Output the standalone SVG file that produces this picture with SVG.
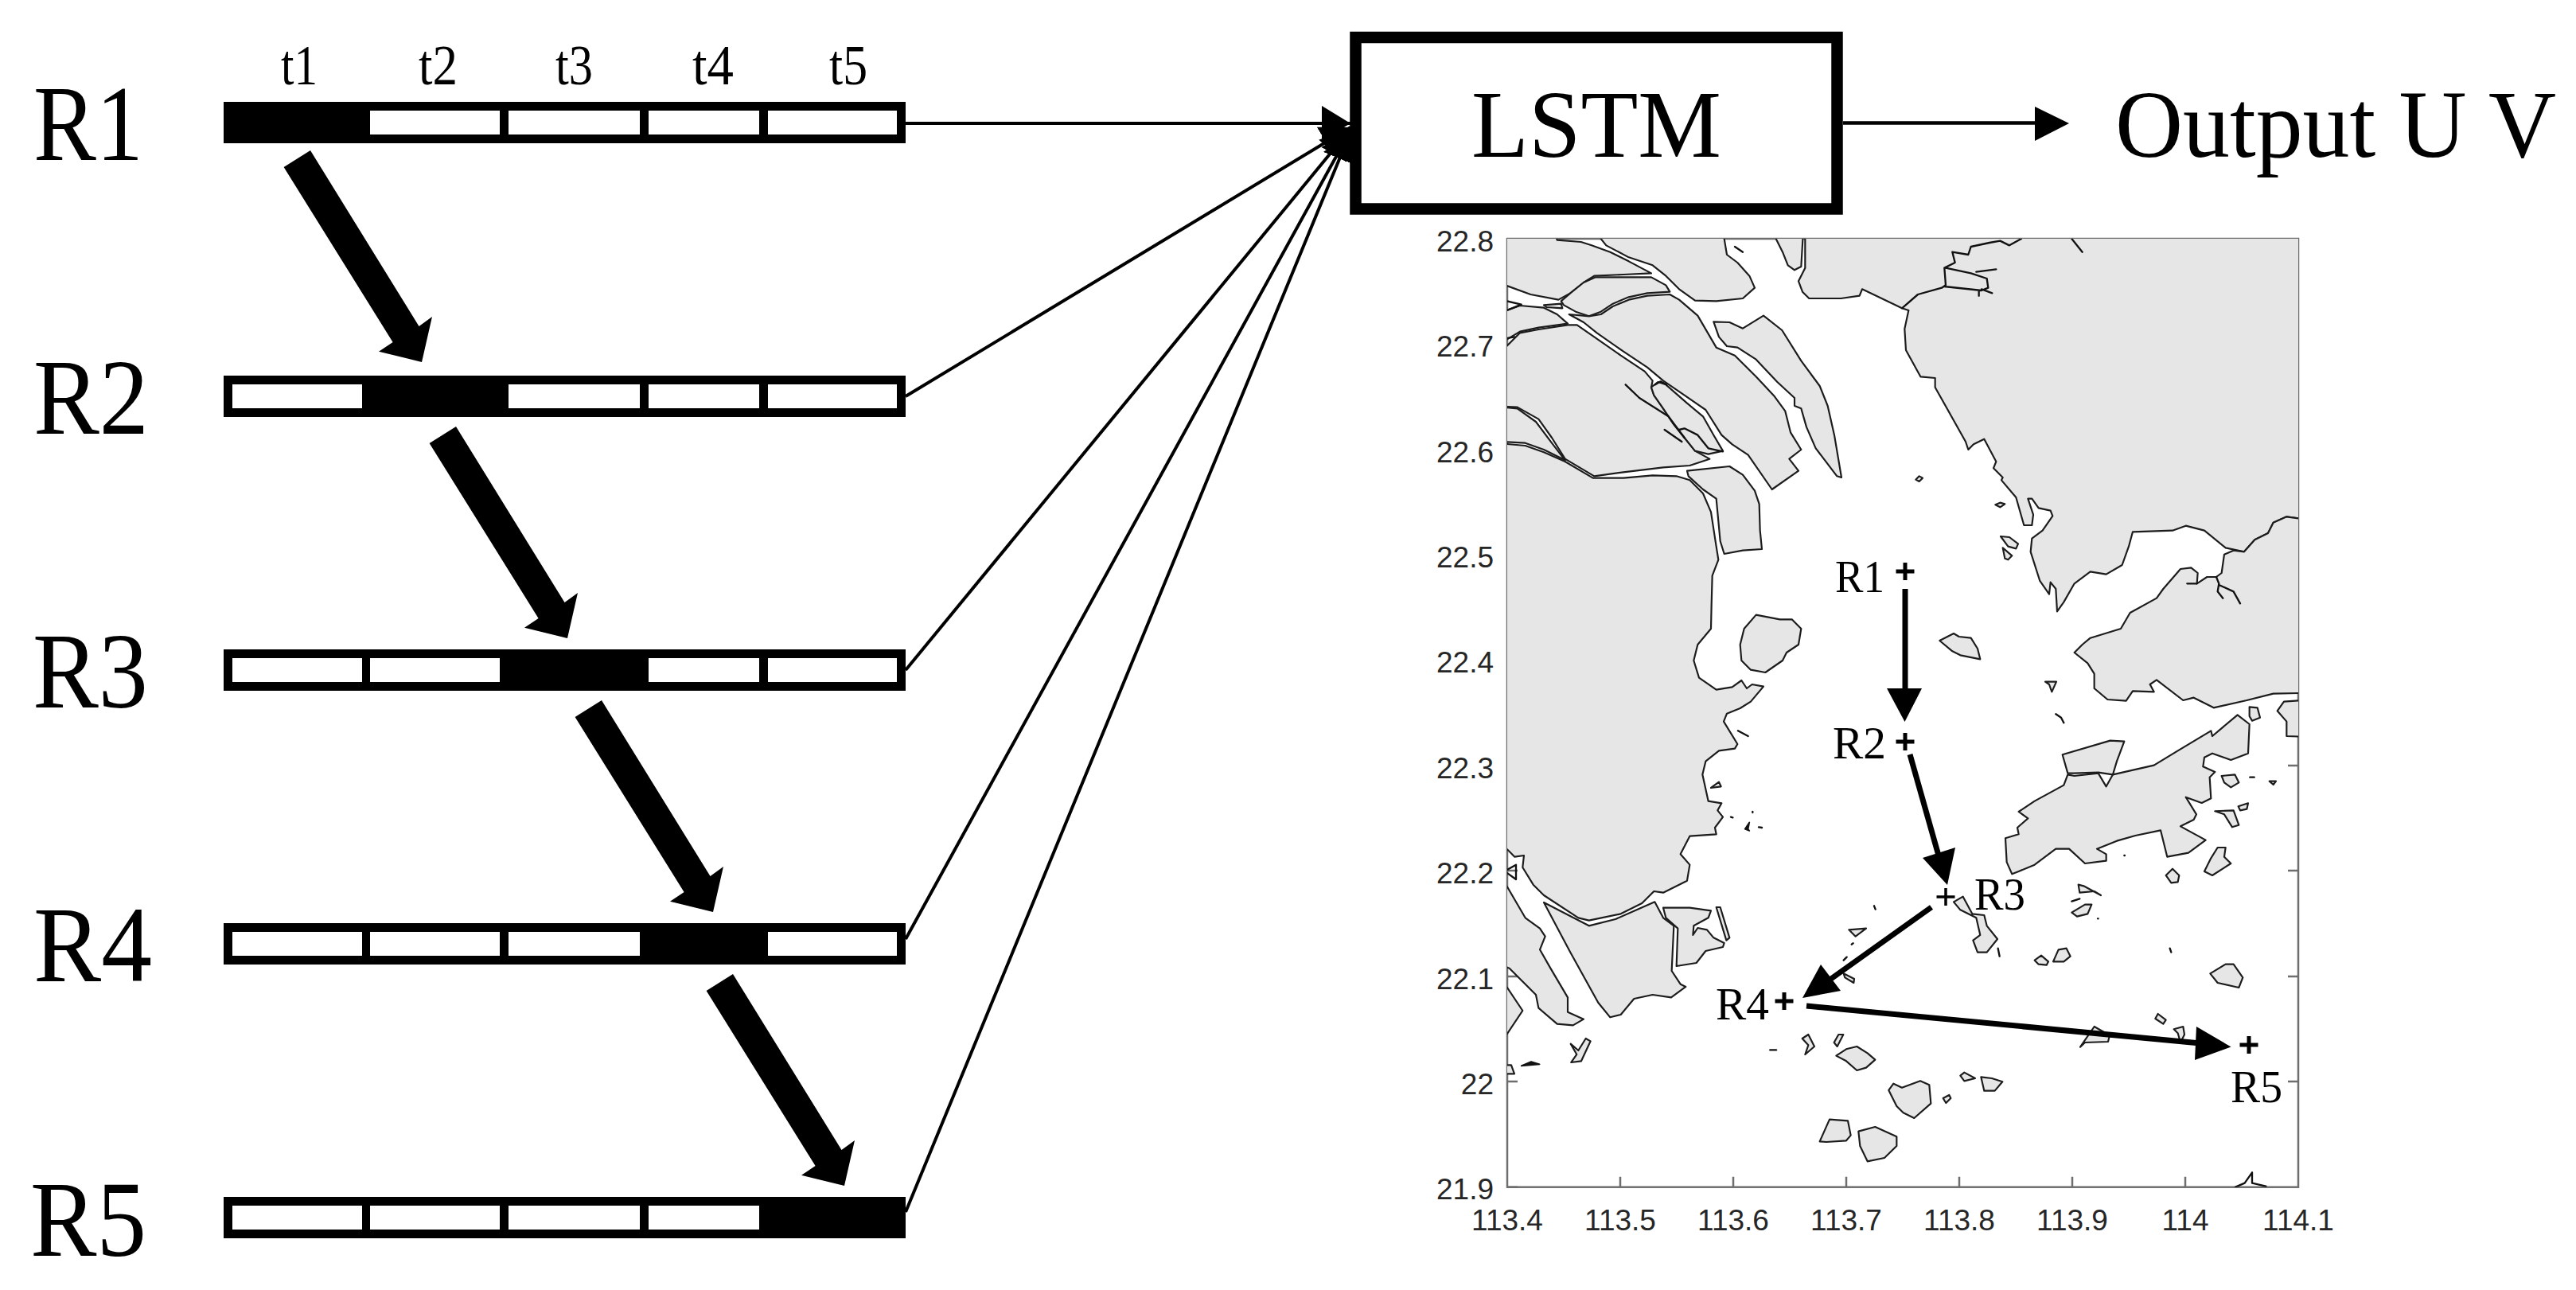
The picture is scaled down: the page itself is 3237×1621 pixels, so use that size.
<svg xmlns="http://www.w3.org/2000/svg" xmlns:xlink="http://www.w3.org/1999/xlink" width="3237" height="1621" viewBox="0 0 3237 1621">
<style>
.serif{font-family:"Liberation Serif","Times New Roman",serif;fill:#000}
.big{font-size:135px}
.t{font-size:71px}
.box{font-size:121px}
.ml{font-size:57px}
.tick{font-family:"Liberation Sans",Arial,sans-serif;font-size:37px;fill:#262626}
.end{text-anchor:end}
.mid{text-anchor:middle}
.land{fill:#e6e6e6;stroke:#1c1c1c;stroke-width:6.500;stroke-linejoin:round}
.ln{fill:none;stroke:#111;stroke-width:7;stroke-linejoin:round;stroke-linecap:round}
.dk{fill:#111;stroke:#111;stroke-width:5;stroke-linejoin:round}
.ax{stroke:#6e6e6e;stroke-width:2.500;fill:none}
.cell{fill:#fff}
.conn{stroke:#000;stroke-width:4;fill:none;marker-end:url(#head)}
.mv{stroke:#000;stroke-width:7;fill:none}
.plus{stroke:#000;stroke-width:5;fill:none}
</style>
<defs>
<marker id="head" markerUnits="userSpaceOnUse" markerWidth="40" markerHeight="48" refX="36" refY="24" orient="auto"><path d="M0,2 L36,24 L0,46 z" fill="#000"/></marker>
<clipPath id="plot"><rect x="1894" y="300" width="994" height="1191.700"/></clipPath>
<polygon id="da" points="390,189 526.5,410 543,398 530,455 476,441.7 493.6,430 356.6,210" fill="#000"/>
<path id="pl" d="M-11.500,0H11.500M0,-11V11"/>
</defs>
<rect width="3237" height="1621" fill="#fff"/>

<g id="map">
<g class="ax">
<path d="M1894,1359h13M1894,1491.700h13M1894,1227h13M1894,1094h13M2036,1491.700v-13M2178,1491.700v-13M2320,1491.700v-13M2462,1491.700v-13M2604,1491.700v-13M2746,1491.700v-13M2888,1359h-13M2888,1227h-13M2888,1094h-13M2888,962h-13M2888,829h-13"/>
<rect x="1894" y="300" width="994" height="1191.700"/>
</g>
<g clip-path="url(#plot)"><g transform="translate(1890,310) scale(.33333)">
<path class="land" d="M-90,135 10,147 100,180 205,200 250,175 300,135 340,110 450,105 555,100 470,55 400,20 330,-5 290,-18 200,-25 190,-60 -90,-60z"/>
<path class="land" d="M341,-60 385,-5 470,40 560,70 610,110 660,160 720,203 800,205 900,195 945,155 925,110 880,60 840,30 825,-60z"/>
<path class="land" d="M215,205 250,175 300,135 345,115 450,115 555,115 610,145 625,170 540,175 470,190 410,215 365,245 320,262 270,245 225,220z"/>
<path class="land" d="M245,255 300,285 350,325 450,395 540,455 600,505 680,560 760,615 820,710 860,745 920,785 1010,915 1110,845 1075,800 1120,765 1080,700 1060,620 1020,565 950,490 870,410 800,380 765,320 730,260 660,200 625,180 540,185 470,200 410,225 365,255 320,262z"/>
<path class="land" d="M-90,240 10,240 60,222 150,230 200,255 240,290 130,305 60,320 10,350 -90,380z"/>
<path class="land" d="M150,220 215,215 220,232 160,228z"/>
<path class="ln" d="M10,205 65,218 10,240M10,345 40,340"/>
<path class="land" d="M-90,440 10,375 60,325 130,312 240,295 275,295 340,340 440,410 530,470 560,505 555,530 565,560 600,610 640,670 680,720 720,770 775,800 700,825 600,832 450,850 340,865 230,800 180,720 130,650 50,605 -90,598z"/>
<path class="land" d="M555,530 580,510 610,520 690,590 750,640 790,710 825,770 770,782 720,770 680,720 640,670 600,610 565,560z"/>
<path class="ln" d="M458,520 510,570 620,640 680,720M605,690 670,735M660,690 680,685 730,710 770,760 825,772M570,520 590,508 612,520"/>
<path class="land" d="M-90,598 50,610 120,660 180,740 230,805 150,765 80,740 -90,730z"/>
<path class="land" d="M-90,735 80,750 150,775 230,810 335,872 450,872 560,862 650,865 700,880 750,930 780,1000 800,1130 808,1180 785,1240 782,1350 780,1440 730,1500 715,1560 735,1625 800,1670 860,1660 895,1635 915,1665 935,1650 978,1658 930,1715 890,1740 840,1760 828,1790 880,1875 870,1892 810,1900 760,1940 748,1990 770,2090 820,2098 805,2125 825,2150 795,2190 800,2215 700,2222 665,2290 700,2330 690,2390 600,2435 565,2430 520,2475 440,2515 320,2540 280,2530 150,2445 110,2405 70,2340 75,2295 40,2300 10,2270 -90,2200z"/>
<path class="ln" d="M10,2350 45,2330 45,2385 10,2360"/>
<path class="land" d="M690,845 850,828 900,860 945,920 962,970 965,1070 972,1140 900,1145 830,1158 815,1110 800,950 750,915 695,865z"/>
<path class="land" d="M790,283 850,285 900,308 978,260 1048,315 1120,430 1190,525 1220,600 1245,710 1272,870 1255,865 1175,760 1140,680 1120,610 1095,600 1095,570 1030,510 950,425 880,380 840,375 810,340z"/>
<path class="land" d="M890,1500 905,1440 950,1388 1040,1405 1085,1405 1120,1440 1110,1500 1065,1530 1050,1560 985,1605 930,1595 895,1560z"/>
<path class="land" d="M1010,-60 1050,20 1070,70 1095,88 1120,75 1128,-60z"/>
<path class="ln" d="M870,0 900,20"/>
<path class="land" d="M1135,-60 1135,80 1110,130 1125,170 1150,195 1270,195 1340,185 1350,160 1500,232 1525,240 1510,310 1515,390 1570,490 1625,495 1625,530 1740,735 1750,765 1770,745 1810,725 1855,810 1845,835 1880,870 1875,880 1930,945 1960,1050 1990,1050 1995,1010 1975,950 1990,950 2015,985 2060,995 2068,1015 2030,1070 1990,1100 1985,1150 2020,1260 2055,1310 2060,1265 2080,1290 2085,1375 2110,1340 2150,1270 2210,1225 2270,1235 2330,1200 2355,1130 2370,1075 2520,1070 2570,1052 2640,1070 2720,1135 2790,1150 2830,1105 2880,1080 2900,1040 2950,1018 3000,1025 3090,1025 3090,-60z"/>
<path class="ln" d="M1500,232 1560,180 1650,155 1665,145 1660,80 1700,60 1690,20 1750,30 1760,0 1830,-15 1870,-22 1905,-5 1950,-30M1665,80 1760,100 1820,120 1825,155 1800,165 1660,150M1780,95 1855,85M1800,160 1840,175M1790,165 1790,185M2140,-30 2180,20"/>
<path class="land" d="M3090,1683 3000,1683 2900,1685 2800,1710 2675,1738 2600,1700 2560,1710 2460,1633 2435,1650 2450,1678 2370,1675 2345,1712 2275,1707 2225,1665 2225,1610 2200,1570 2150,1530 2180,1500 2210,1475 2325,1440 2360,1380 2460,1325 2485,1290 2550,1215 2590,1210 2615,1230 2612,1270 2650,1245 2685,1245 2705,1230 2715,1160 2750,1145 2790,1150 2830,1105 2880,1080 2900,1040 2950,1018 3000,1025 3090,1025z"/>
<path class="ln" d="M2575,1270 2612,1270M2685,1245 2695,1270 2690,1300 2710,1325M2695,1275 2750,1300 2775,1345"/>
<path class="land" d="M3090,1705 2940,1715 2915,1750 2950,1790 2950,1845 3090,1850z"/>
<path class="land" d="M1915,2365 1895,2320 1890,2230 1940,2215 1935,2190 1975,2155 1940,2130 2000,2090 2110,2030 2125,1990 2150,1995 2240,1985 2270,2035 2295,1990 2450,1955 2540,1900 2665,1825 2670,1845 2765,1765 2810,1800 2805,1910 2740,1935 2670,1910 2640,1925 2635,1960 2680,1980 2660,2000 2665,2080 2630,2097 2570,2075 2610,2140 2600,2160 2550,2185 2645,2237 2580,2285 2500,2300 2475,2200 2380,2220 2310,2240 2235,2270 2270,2290 2270,2315 2190,2325 2130,2270 2080,2270 2000,2330 1940,2355z"/>
<path class="land" d="M2105,1915 2285,1862 2338,1865 2310,1940 2295,1990 2240,1982 2150,1985 2125,1985z"/>
<path class="land" d="M2810,1735 2840,1738 2850,1775 2820,1787 2810,1770z"/>
<path class="land" d="M2705,1995 2755,1990 2770,2020 2740,2038 2715,2020z"/>
<path class="land" d="M2885,2015 2910,2015 2900,2028z"/>
<path class="ln" d="M2812,2000 2828,2000M2338,2295 2340,2295M2238,2533 2240,2533"/>
<path class="land" d="M2680,2128 2750,2125 2770,2180 2745,2188 2715,2140z"/>
<path class="land" d="M2768,2110 2805,2098 2800,2120 2775,2125z"/>
<path class="land" d="M2665,2305 2690,2265 2720,2265 2715,2300 2740,2325 2670,2370 2640,2355z"/>
<path class="land" d="M2495,2370 2520,2345 2545,2370 2540,2395 2515,2398z"/>
<path class="land" d="M1695,2470 1730,2450 1765,2515 1810,2520 1820,2560 1860,2610 1820,2660 1785,2660 1768,2615 1795,2595 1780,2530 1720,2500z"/>
<path class="ln" d="M1862,2645 1868,2675"/>
<path class="land" d="M2000,2690 2025,2672 2052,2695 2045,2708 2015,2705z"/>
<path class="land" d="M2070,2695 2090,2650 2120,2645 2135,2675 2110,2695z"/>
<path class="land" d="M2662,2740 2720,2705 2750,2705 2785,2755 2770,2793 2690,2775z"/>
<path class="land" d="M2165,2405 2185,2410 2250,2445 2225,2430 2170,2435z"/>
<path class="ln" d="M2140,2468 2170,2458"/>
<path class="land" d="M2140,2510 2190,2480 2215,2480 2200,2515 2160,2525z"/>
<path class="land" d="M2455,2910 2465,2892 2495,2915 2485,2930z"/>
<path class="land" d="M2525,2950 2560,2940 2565,2970 2550,3000 2540,2965z"/>
<path class="land" d="M2172,3017 2225,2940 2283,2973 2277,2997 2190,3000z"/>
<path class="land" d="M1552,878 1565,865 1578,872 1565,885z"/>
<path class="land" d="M1852,973 1870,965 1888,970 1870,982z"/>
<path class="land" d="M1872,1092 1905,1095 1938,1120 1930,1138 1900,1130z"/>
<path class="land" d="M1880,1135 1915,1165 1900,1180 1888,1175z"/>
<path class="land" d="M1642,1485 1695,1458 1715,1470 1760,1475 1785,1515 1795,1555 1720,1540 1690,1525z"/>
<path class="land" d="M2040,1640 2082,1640 2065,1678 2055,1650z"/>
<path class="ln" d="M2080,1762 2100,1775 2110,1795M2510,2645 2515,2660"/>
<path class="land" d="M780,2040 810,2018 818,2035z"/>
<path class="ln" d="M882,1825 920,1845M1395,2485 1400,2498M855,2150 862,2152M937,2130 937,2133M960,2188 972,2190"/>
<path class="dk" d="M908,2195 925,2170 920,2195 925,2202z"/>
<path class="land" d="M1300,2575 1365,2570 1325,2600z"/>
<path class="ln" d="M1310,2630 1316,2626M1280,2690 1292,2678"/>
<path class="land" d="M1280,2740 1320,2760 1318,2775 1285,2755z"/>
<path class="land" d="M-90,2410 10,2410 80,2530 135,2570 155,2600 135,2650 175,2720 240,2830 240,2885 300,2912 260,2935 200,2930 130,2870 120,2820 20,2720 -90,2680z"/>
<path class="land" d="M-90,2755 10,2790 70,2880 10,2970 -90,3000z"/>
<path class="land" d="M150,2472 320,2560 420,2535 500,2500 568,2470 600,2530 640,2560 632,2730 665,2780 685,2790 630,2830 560,2820 490,2835 440,2895 400,2905 355,2850 250,2660z"/>
<path class="land" d="M600,2492 700,2492 780,2503 770,2530 715,2560 712,2595 730,2568 765,2575 790,2605 830,2625 825,2640 760,2655 725,2700 650,2712 655,2570 610,2530z"/>
<path class="land" d="M800,2490 815,2490 850,2605 838,2615z"/>
<path class="land" d="M-90,3085 27,3085 39,3118 -90,3118z"/>
<path class="dk" d="M65,3088 102,3072 134,3082z"/>
<path class="land" d="M251,3005 280,3030 308,2985 326,2995 291,3070 253,3075 274,3045z"/>
<path class="ln" d="M1003,3028 1026,3028"/>
<path class="land" d="M1124,2985 1147,2970 1170,3015 1135,3045 1147,3010z"/>
<path class="land" d="M1244,3000 1261,2970 1279,2970 1256,3015z"/>
<path class="land" d="M1252,3050 1290,3025 1330,3015 1370,3040 1399,3065 1365,3095 1330,3105 1290,3070z"/>
<path class="land" d="M1190,3373 1227,3290 1296,3295 1307,3350 1290,3370 1215,3375z"/>
<path class="land" d="M1336,3335 1399,3318 1480,3355 1480,3390 1434,3435 1370,3448 1342,3390z"/>
<path class="land" d="M1450,3180 1468,3155 1500,3170 1569,3145 1603,3160 1609,3230 1546,3285 1505,3265 1480,3240z"/>
<path class="land" d="M1655,3210 1678,3198 1684,3210 1666,3228z"/>
<path class="land" d="M1720,3125 1735,3113 1776,3135 1735,3145z"/>
<path class="land" d="M1798,3130 1839,3135 1879,3148 1850,3182 1810,3182z"/>
<path class="ln" d="M2757,3545 2792,3530 2820,3490 2820,3530 2872,3542"/>
</g></g>
<g class="tick">
<text class="end" x="1877" y="316">22.8</text>
<text class="end" x="1877" y="448">22.7</text>
<text class="end" x="1877" y="581">22.6</text>
<text class="end" x="1877" y="713">22.5</text>
<text class="end" x="1877" y="845">22.4</text>
<text class="end" x="1877" y="978">22.3</text>
<text class="end" x="1877" y="1110">22.2</text>
<text class="end" x="1877" y="1243">22.1</text>
<text class="end" x="1877" y="1375">22</text>
<text class="end" x="1877" y="1507">21.9</text>
<text class="mid" x="1894" y="1546">113.4</text>
<text class="mid" x="2036" y="1546">113.5</text>
<text class="mid" x="2178" y="1546">113.6</text>
<text class="mid" x="2320" y="1546">113.7</text>
<text class="mid" x="2462" y="1546">113.8</text>
<text class="mid" x="2604" y="1546">113.9</text>
<text class="mid" x="2746" y="1546">114</text>
<text class="mid" x="2888" y="1546">114.1</text>
</g>
<g class="serif ml">
<text x="2306" y="744" textLength="62" lengthAdjust="spacingAndGlyphs">R1</text>
<text x="2303" y="953" textLength="67" lengthAdjust="spacingAndGlyphs">R2</text>
<text x="2481" y="1143" textLength="64" lengthAdjust="spacingAndGlyphs">R3</text>
<text x="2156" y="1281" textLength="67" lengthAdjust="spacingAndGlyphs">R4</text>
<text x="2803" y="1385" textLength="65" lengthAdjust="spacingAndGlyphs">R5</text>
</g>
<g class="plus">
<use xlink:href="#pl" href="#pl" x="2394" y="718"/>
<use xlink:href="#pl" href="#pl" x="2394" y="932"/>
<use xlink:href="#pl" href="#pl" x="2445" y="1127" style="stroke-width:3.5"/>
<use xlink:href="#pl" href="#pl" x="2242" y="1258"/>
<use xlink:href="#pl" href="#pl" x="2826" y="1313"/>
</g>
</g>

<g id="connectors">
<path class="conn" d="M1138,155H1697"/>
<path class="conn" d="M1138,498L1697,160"/>
<path class="conn" d="M1138,842L1697,162"/>
<path class="conn" d="M1138,1180L1697,164"/>
<path class="conn" d="M1138,1523L1697,166"/>
<path d="M2316,154.500H2560" stroke="#000" stroke-width="4.500"/>
<polygon points="2557,134 2600,155 2557,177" fill="#000"/>
<use xlink:href="#da" href="#da"/>
<use xlink:href="#da" href="#da" transform="translate(183,347)"/>
<use xlink:href="#da" href="#da" transform="translate(366,691)"/>
<use xlink:href="#da" href="#da" transform="translate(531,1035)"/>
<path class="mv" d="M2394,740V870"/>
<polygon points="2371,865 2415,865 2393.500,907" fill="#000"/>
<path class="mv" d="M2400,948L2436,1075"/>
<polygon points="2416,1078 2457,1065 2447,1112" fill="#000"/>
<path class="mv" d="M2427,1140L2298,1232"/>
<polygon points="2288,1212 2313,1245 2265,1254" fill="#000"/>
<path class="mv" d="M2270,1264L2765,1311"/>
<polygon points="2760,1290 2803.500,1315.500 2758,1332" fill="#000"/>
</g>

<g id="times" class="serif t">
<text x="353" y="106" textLength="46" lengthAdjust="spacingAndGlyphs">t1</text>
<text x="526" y="106" textLength="49" lengthAdjust="spacingAndGlyphs">t2</text>
<text x="698" y="106" textLength="47" lengthAdjust="spacingAndGlyphs">t3</text>
<text x="870" y="106" textLength="52" lengthAdjust="spacingAndGlyphs">t4</text>
<text x="1042" y="106" textLength="48" lengthAdjust="spacingAndGlyphs">t5</text>
</g>

<g id="r1">
<text class="serif big" x="42" y="201" textLength="138" lengthAdjust="spacingAndGlyphs">R1</text>
<rect x="281" y="128" width="857" height="52"/>
<rect class="cell" x="465" y="139" width="163" height="30"/><rect class="cell" x="639" y="139" width="165" height="30"/><rect class="cell" x="815" y="139" width="139" height="30"/><rect class="cell" x="965" y="139" width="162" height="30"/>
</g>
<g id="r2">
<text class="serif big" x="42" y="545" textLength="145" lengthAdjust="spacingAndGlyphs">R2</text>
<rect x="281" y="472" width="857" height="52"/>
<rect class="cell" x="292" y="483" width="163" height="30"/><rect class="cell" x="639" y="483" width="165" height="30"/><rect class="cell" x="815" y="483" width="139" height="30"/><rect class="cell" x="965" y="483" width="162" height="30"/>
</g>
<g id="r3">
<text class="serif big" x="41" y="889" textLength="145" lengthAdjust="spacingAndGlyphs">R3</text>
<rect x="281" y="816" width="857" height="52"/>
<rect class="cell" x="292" y="827" width="163" height="30"/><rect class="cell" x="465" y="827" width="163" height="30"/><rect class="cell" x="815" y="827" width="139" height="30"/><rect class="cell" x="965" y="827" width="162" height="30"/>
</g>
<g id="r4">
<text class="serif big" x="42" y="1233" textLength="149" lengthAdjust="spacingAndGlyphs">R4</text>
<rect x="281" y="1160" width="857" height="52"/>
<rect class="cell" x="292" y="1171" width="163" height="30"/><rect class="cell" x="465" y="1171" width="163" height="30"/><rect class="cell" x="639" y="1171" width="165" height="30"/><rect class="cell" x="965" y="1171" width="162" height="30"/>
</g>
<g id="r5">
<text class="serif big" x="38" y="1578" textLength="146" lengthAdjust="spacingAndGlyphs">R5</text>
<rect x="281" y="1504" width="857" height="52"/>
<rect class="cell" x="292" y="1515" width="163" height="30"/><rect class="cell" x="465" y="1515" width="163" height="30"/><rect class="cell" x="639" y="1515" width="165" height="30"/><rect class="cell" x="815" y="1515" width="139" height="30"/>
</g>

<g id="lstm">
<rect x="1703.500" y="47" width="605" height="215.500" fill="#fff" stroke="#000" stroke-width="14.500"/>
<text class="serif box" x="1849" y="197" textLength="314" lengthAdjust="spacingAndGlyphs">LSTM</text>
</g>
<g id="output">
<text class="serif box" x="2658" y="197" textLength="554" lengthAdjust="spacingAndGlyphs">Output U V</text>
</g>
</svg>
